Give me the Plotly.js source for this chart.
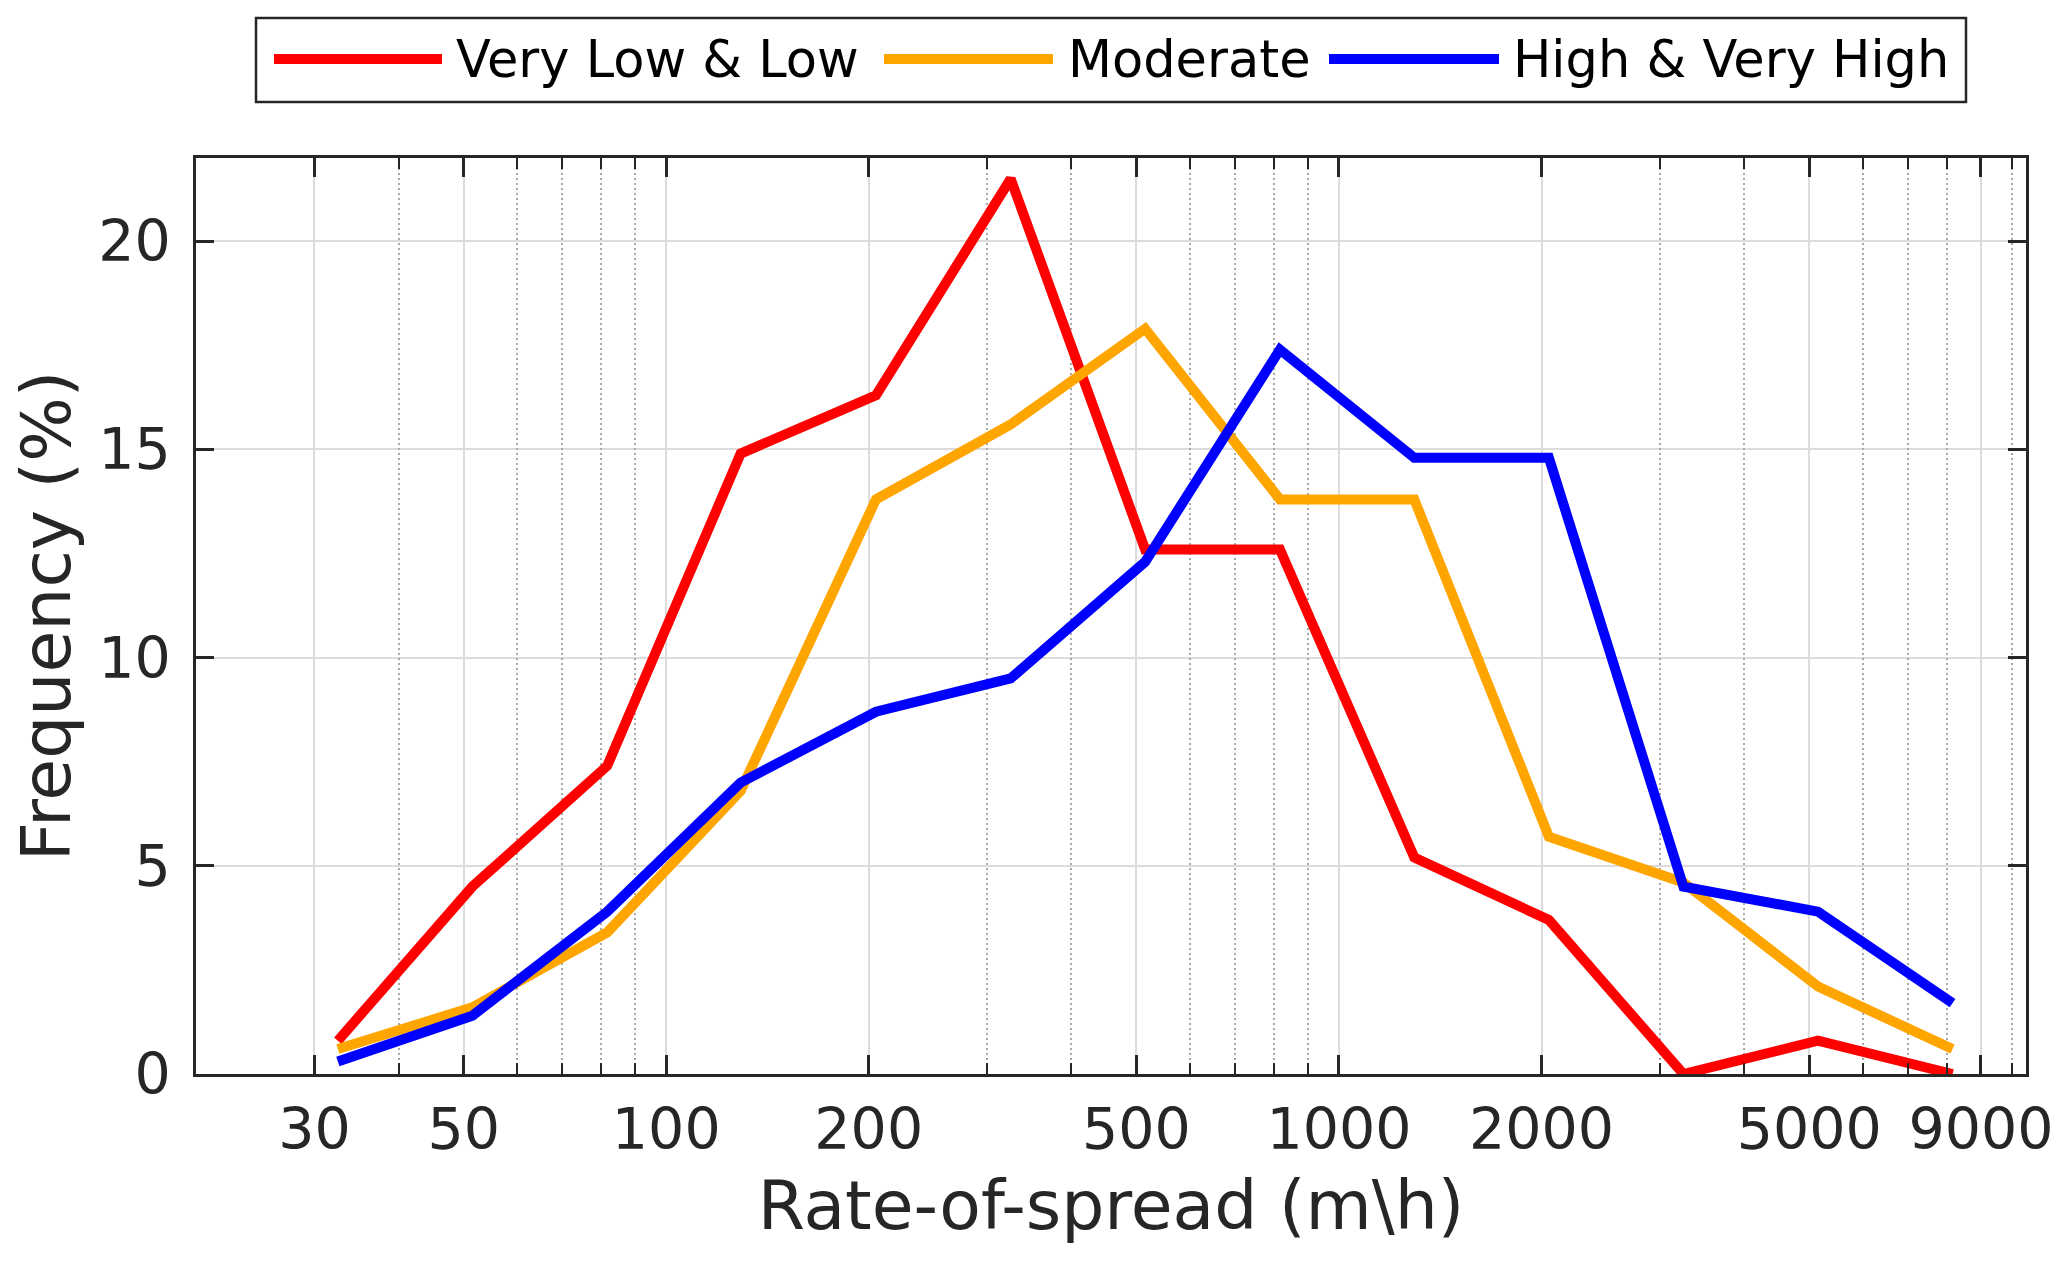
<!DOCTYPE html>
<html>
<head>
<meta charset="utf-8">
<script src="https://cdn.plot.ly/plotly-3.0.1.min.js"></script>
<style>
  html, body { margin: 0; padding: 0; background: #fff; }
  #chart { width: 2067px; height: 1263px; }
</style>
</head>
<body>
<div id="chart"></div>
<script>
// bin centres of the rate-of-spread classes (m/h)
const ros = [32.5, 51.5, 81.7, 129, 205, 325, 515, 817, 1294, 2051, 3251, 5152, 8166];

// frequency (%) for each fire danger class
const veryLowLow   = [0.8, 4.5, 7.4, 14.9, 16.3, 21.5, 12.6, 12.6, 5.2, 3.7, 0, 0.8, 0];
const moderate     = [0.6, 1.6, 3.4, 6.8, 13.8, 15.6, 17.9, 13.8, 13.8, 5.7, 4.6, 2.1, 0.6];
const highVeryHigh = [0.3, 1.4, 3.9, 7.0, 8.7, 9.5, 12.3, 17.4, 14.8, 14.8, 4.5, 3.9, 1.7];

const seriesNames  = ["Very Low & Low", "Moderate", "High & Very High"];
const seriesValues = [veryLowLow, moderate, highVeryHigh];
const seriesColors = ["#ff0000", "#ffa500", "#0000ff"];

// ticks
const xTicks = [30, 50, 100, 200, 500, 1000, 2000, 5000, 9000];
const xMinorTicks = [40, 60, 70, 80, 90, 300, 400, 600, 700, 800, 900, 3000, 4000, 6000, 7000, 8000, 10000];
const yTicks = [0, 5, 10, 15, 20];

// page geometry (pixels) and helpers to turn pixels into paper coords
const W = 2067, H = 1263;
const margin = {l: 196, r: 41, t: 158, b: 189};
const plotW = W - margin.l - margin.r;
const plotH = H - margin.t - margin.b;
const px = v => (v - margin.l) / plotW;
const py = v => (H - margin.b - v) / plotH;

const axisColor = "#262626";
const xRange = [Math.log10(20), Math.log10(10500)];
const yRange = [0, 22];

let traces = seriesValues.map((vals, i) => ({
    x: ros,
    y: vals,
    name: seriesNames[i],
    type: "scatter",
    mode: "lines",
    line: {color: seriesColors[i], width: 10},
    showlegend: false,
    hoverinfo: "x+y+name"
}));

// empty helper trace so the minor-tick overlay axes get drawn
traces.unshift({
    x: [xTicks[0]],
    y: [yTicks[0]],
    xaxis: "x2",
    yaxis: "y2",
    type: "scatter",
    mode: "markers",
    marker: {opacity: 0},
    showlegend: false,
    hoverinfo: "skip"
});

// legend drawn by hand so the line samples are as long as in the figure
let legendItems = [
    {x0: 274, x1: 442, tx: 454},
    {x0: 884, x1: 1053, tx: 1066},
    {x0: 1329, x1: 1499, tx: 1511}
];
let legendY = 59;

let shapes = [{
    type: "rect", xref: "paper", yref: "paper",
    x0: px(256), x1: px(1966), y0: py(102), y1: py(18),
    line: {color: axisColor, width: 2.5},
    fillcolor: "#ffffff"
}];
let annotations = [];
legendItems.forEach((it, i) => {
    shapes.push({
        type: "line", xref: "paper", yref: "paper",
        x0: px(it.x0), x1: px(it.x1), y0: py(legendY), y1: py(legendY),
        line: {color: seriesColors[i], width: 10}
    });
    annotations.push({
        xref: "paper", yref: "paper",
        x: px(it.tx), y: py(legendY),
        xanchor: "left", yanchor: "middle",
        text: seriesNames[i],
        showarrow: false,
        font: {family: "DejaVu Sans", size: 51, color: "#000000"}
    });
});

let layout = {
    width: W,
    height: H,
    margin: margin,
    paper_bgcolor: "#ffffff",
    plot_bgcolor: "#ffffff",
    font: {family: "DejaVu Sans", color: axisColor},
    showlegend: false,
    xaxis: {
        type: "log",
        range: xRange,
        tickmode: "array",
        tickvals: xTicks,
        ticktext: xTicks.map(String),
        ticks: "inside",
        ticklen: 19,
        tickwidth: 2.5,
        tickcolor: axisColor,
        tickfont: {size: 57, color: axisColor},
        ticklabelstandoff: 4,
        showline: true,
        linecolor: axisColor,
        linewidth: 2.5,
        mirror: "allticks",
        showgrid: true,
        gridcolor: "#dcdcdc",
        gridwidth: 2,
        zeroline: false,
        automargin: "bottom",
        title: {text: "Rate-of-spread (m\\h)", font: {size: 68, color: axisColor}, standoff: 21}
    },
    // overlay axes only for the minor ticks and dotted minor grid
    xaxis2: {
        type: "log",
        overlaying: "x",
        anchor: "y2",
        side: "bottom",
        range: xRange,
        tickmode: "array",
        tickvals: xMinorTicks,
        showticklabels: false,
        ticks: "inside",
        ticklen: 11,
        tickwidth: 2,
        tickcolor: axisColor,
        showline: true,
        linecolor: axisColor,
        linewidth: 2.5,
        mirror: "allticks",
        showgrid: true,
        gridcolor: "#a8a8a8",
        gridwidth: 2,
        griddash: "2px,3px",
        zeroline: false,
        automargin: false
    },
    yaxis2: {
        overlaying: "y",
        anchor: "x2",
        range: yRange,
        showticklabels: false,
        ticks: "",
        showline: false,
        showgrid: false,
        zeroline: false,
        automargin: false
    },
    yaxis: {
        range: yRange,
        tickmode: "array",
        tickvals: yTicks,
        ticks: "inside",
        ticklen: 18,
        tickwidth: 2.5,
        tickcolor: axisColor,
        tickfont: {size: 57, color: axisColor},
        ticklabelstandoff: 11,
        showline: true,
        linecolor: axisColor,
        linewidth: 2.5,
        mirror: "allticks",
        showgrid: true,
        gridcolor: "#dcdcdc",
        gridwidth: 2,
        zeroline: false,
        automargin: "left",
        title: {text: "Frequency (%)", font: {size: 68, color: axisColor}, standoff: 6}
    },
    shapes: shapes,
    annotations: annotations
};

Plotly.newPlot("chart", traces, layout, {displayModeBar: false});
</script>
</body>
</html>
